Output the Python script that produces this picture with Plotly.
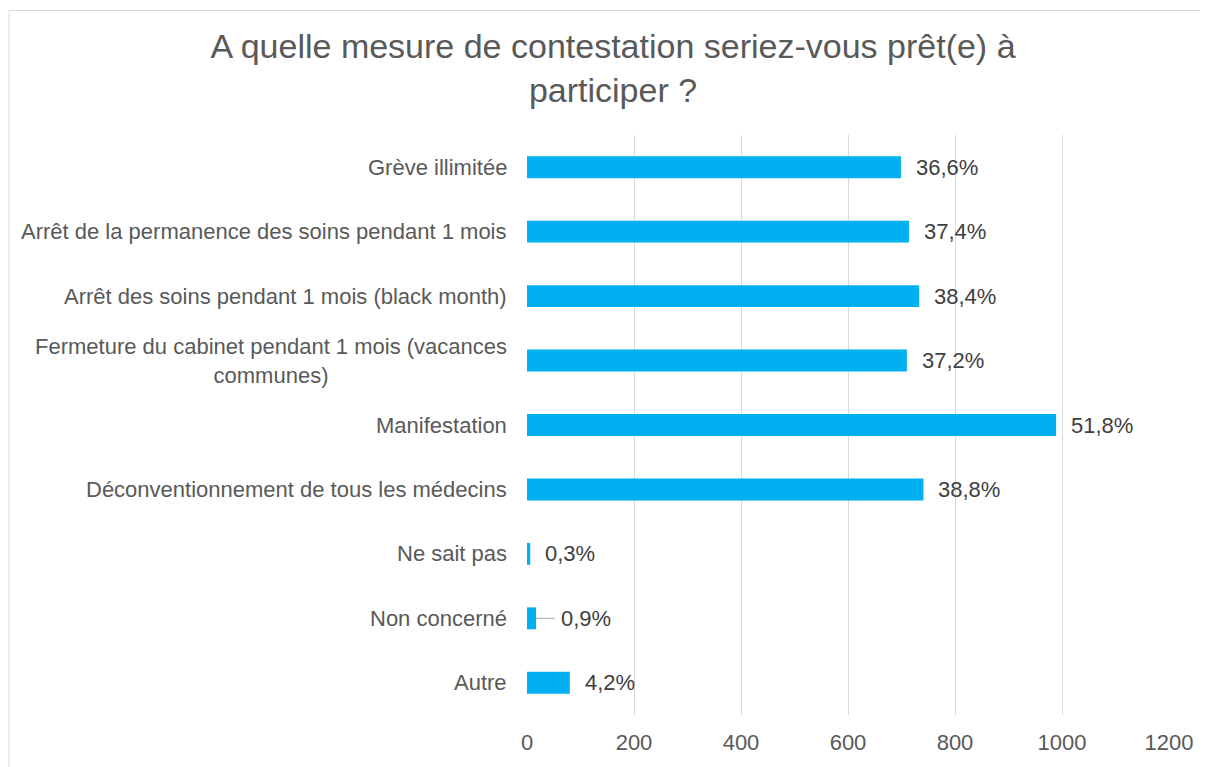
import plotly.graph_objects as go

categories = [
    "Grève illimitée",
    "Arrêt de la permanence des soins pendant 1 mois",
    "Arrêt des soins pendant 1 mois (black month)",
    "Fermeture du cabinet pendant 1 mois (vacances<br>communes)",
    "Manifestation",
    "Déconventionnement de tous les médecins",
    "Ne sait pas",
    "Non concerné",
    "Autre",
]
counts = [699, 714, 733, 710, 989, 741, 6, 17, 80]
percent_labels = ["36,6%", "37,4%", "38,4%", "37,2%", "51,8%", "38,8%", "0,3%", "0,9%", "4,2%"]
x_ticks = [0, 200, 400, 600, 800, 1000, 1200]

# page body adds an 8px offset, so the figure is laid out 8px smaller
W, H = 1200, 759
L, R, T, B = 519, 39, 127, 45
plot_w = W - L - R
plot_h = H - T - B

font_family = "Liberation Sans, Arial, sans-serif"

fig = go.Figure()
fig.add_trace(
    go.Bar(
        x=counts,
        y=categories,
        orientation="h",
        marker=dict(color="#00b0f0", line=dict(width=0)),
        hoverinfo="x+y",
    )
)

# category labels as annotations so the wrapped one is centred like the original
for cat in categories:
    fig.add_annotation(
        x=0, y=cat, xref="paper", yref="y",
        text=cat, showarrow=False, xanchor="right", xshift=-18, align="center",
        font=dict(family=font_family, size=22, color="#595959"),
    )

# data labels
for cat, val, lab in zip(categories, counts, percent_labels):
    if cat == "Non concerné":
        fig.add_annotation(
            x=val, y=cat, xref="x", yref="y", text=lab,
            showarrow=True, arrowhead=0, arrowwidth=1, arrowcolor="#a6a6a6",
            ax=50, ay=0, standoff=0, borderpad=6,
            font=dict(family=font_family, size=22, color="#404040"),
        )
    else:
        fig.add_annotation(
            x=val, y=cat, xref="x", yref="y", text=lab,
            showarrow=False, xanchor="left", xshift=13,
            font=dict(family=font_family, size=22, color="#404040"),
        )

# chart frame (left and top edges visible in the crop)
top = 1 + (T - 1) / plot_h
left = (1 - L) / plot_w
fig.add_shape(type="line", xref="paper", yref="paper",
              x0=left, x1=(W + 5 - L) / plot_w, y0=top, y1=top,
              line=dict(color="#d9d9d9", width=1))
fig.add_shape(type="line", xref="paper", yref="paper",
              x0=left, x1=left, y0=top, y1=-B / plot_h - 0.02,
              line=dict(color="#d9d9d9", width=1))

fig.update_xaxes(
    range=[0, 1200], tickvals=x_ticks, showgrid=True, gridcolor="#d9d9d9", gridwidth=1,
    zeroline=False, showline=False, ticks="", ticklabelstandoff=12,
    tickfont=dict(family=font_family, size=22, color="#595959"),
)
fig.update_yaxes(
    autorange="reversed", showticklabels=False, showgrid=False, zeroline=False, ticks="",
)
fig.update_layout(
    title=dict(
        text="A quelle mesure de contestation seriez-vous prêt(e) à<br>participer ?",
        x=605 / W, xanchor="center", y=1 - 50 / H, yanchor="top",
        font=dict(family=font_family, size=34, color="#595959"),
    ),
    width=W, height=H,
    margin=dict(l=L, r=R, t=T, b=B, pad=0),
    bargap=0.66,
    plot_bgcolor="white", paper_bgcolor="white",
    showlegend=False,
)
fig.write_html("out.html")
